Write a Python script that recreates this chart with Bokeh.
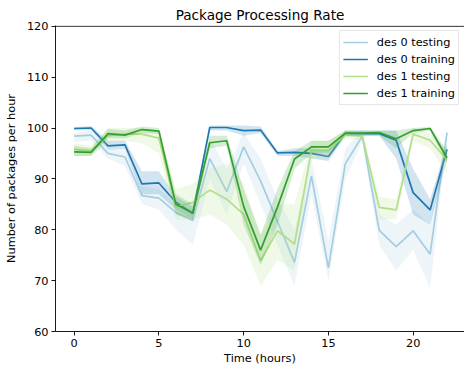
from bokeh.plotting import figure
from bokeh.models import Range1d, Span, FixedTicker
from bokeh.embed import file_html
from bokeh.resources import INLINE

hours = list(range(23))

des0_test = [98.4, 98.6, 95.0, 94.3, 86.7, 86.2, 83.4, 81.8, 94.0, 87.5, 96.3, 89.6,
             81.6, 73.6, 90.6, 72.5, 93.0, 98.4, 79.9, 76.7, 79.8, 75.2, 99.1]
des0_test_lo = [97.3, 97.5, 94.0, 92.5, 85.0, 84.0, 80.0, 77.0, 90.0, 83.0, 93.0, 85.0,
                77.0, 69.0, 87.0, 70.0, 90.0, 97.5, 77.0, 72.0, 76.0, 68.5, 98.0]
des0_test_hi = [99.0, 99.5, 96.0, 95.5, 88.5, 88.0, 85.0, 84.0, 98.0, 92.0, 99.0, 94.0,
                86.0, 80.0, 94.0, 78.0, 96.0, 99.5, 83.0, 81.0, 84.0, 81.0, 100.0]

des0_train = [99.9, 100.0, 96.5, 96.7, 89.0, 89.2, 85.4, 83.2, 100.1, 100.1, 99.5, 99.6,
              95.1, 95.2, 95.0, 94.4, 98.9, 98.9, 98.9, 97.6, 87.3, 83.9, 95.8]
des0_train_lo = [99.5, 99.6, 95.8, 95.8, 87.0, 87.0, 84.0, 82.0, 99.5, 99.5, 98.5, 99.0,
                 94.5, 94.5, 94.0, 93.5, 98.5, 98.5, 98.5, 94.0, 83.0, 81.0, 94.0]
des0_train_hi = [100.2, 100.4, 97.5, 97.5, 91.5, 91.5, 86.5, 84.5, 100.5, 100.5, 100.5, 100.3,
                 95.5, 96.0, 96.0, 95.5, 99.5, 99.5, 99.5, 99.5, 92.0, 86.0, 97.0]

des1_test = [95.8, 95.5, 98.5, 98.8, 98.8, 98.0, 84.5, 85.4, 87.8, 86.0, 83.0, 73.9,
             79.8, 77.2, 95.6, 95.6, 98.6, 98.4, 84.4, 83.9, 98.8, 97.6, 93.7]
des1_test_lo = [94.5, 94.5, 97.0, 97.5, 97.0, 95.0, 82.0, 82.0, 83.0, 81.0, 77.0, 69.0,
                74.0, 72.0, 94.0, 94.0, 98.0, 97.5, 82.0, 82.0, 97.5, 96.0, 91.0]
des1_test_hi = [97.0, 96.5, 100.0, 100.0, 100.0, 99.5, 88.0, 89.0, 92.0, 93.0, 89.0, 79.0,
                85.0, 85.0, 97.5, 97.5, 99.5, 99.5, 86.5, 86.0, 100.0, 99.0, 96.0]

des1_train = [95.3, 95.2, 98.9, 98.6, 99.7, 99.4, 85.0, 83.3, 97.1, 97.5, 84.6, 76.0,
              84.5, 93.9, 96.3, 96.3, 99.0, 99.0, 99.1, 97.9, 99.5, 99.9, 94.1]
des1_train_lo = [94.5, 94.5, 98.0, 98.0, 99.0, 98.8, 83.0, 82.0, 96.0, 96.5, 81.0, 73.0,
                 81.0, 92.0, 95.0, 95.0, 98.5, 98.5, 98.5, 96.0, 99.0, 99.5, 93.0]
des1_train_hi = [96.5, 96.0, 99.8, 99.5, 100.3, 100.0, 87.0, 85.0, 98.5, 98.5, 88.0, 79.0,
                 88.0, 95.5, 97.5, 97.5, 99.5, 99.5, 99.5, 99.5, 100.0, 100.2, 95.5]

labels = ["des 0 testing", "des 0 training", "des 1 testing", "des 1 training"]
colors = ["#a6cee3", "#1f78b4", "#b2df8a", "#33a02c"]
x_ticks = [0, 5, 10, 15, 20]
y_ticks = [60, 70, 80, 90, 100, 110, 120]

series = [
    (des0_test, des0_test_lo, des0_test_hi),
    (des0_train, des0_train_lo, des0_train_hi),
    (des1_test, des1_test_lo, des1_test_hi),
    (des1_train, des1_train_lo, des1_train_hi),
]

FONT = "DejaVu Sans"
FS = "11.3px"

p = figure(width=464, height=368, output_backend="svg", toolbar_location=None,
           x_range=Range1d(-1.1, 23.03), y_range=Range1d(60, 120.15),
           title="Package Processing Rate",
           min_border_left=55, min_border_right=0, min_border_top=25, min_border_bottom=37)

p.title.align = "center"
p.title.text_font = FONT
p.title.text_font_size = "13.6px"
p.title.text_font_style = "normal"
p.title.text_color = "black"
p.title.standoff = 6

p.outline_line_color = None
p.grid.visible = False
p.background_fill_color = "white"
p.border_fill_color = "white"

for ax in (p.xaxis[0], p.yaxis[0]):
    ax.axis_line_color = "black"
    ax.axis_line_width = 0.9
    ax.major_tick_line_color = "black"
    ax.major_tick_line_width = 0.9
    ax.major_tick_in = 0
    ax.major_tick_out = 4
    ax.minor_tick_line_color = None
    ax.major_label_text_font = FONT
    ax.major_label_text_font_size = FS
    ax.major_label_text_color = "black"
    ax.axis_label_text_font = FONT
    ax.axis_label_text_font_size = FS
    ax.axis_label_text_font_style = "normal"
    ax.axis_label_text_color = "black"
    ax.major_label_standoff = 3

p.xaxis.ticker = FixedTicker(ticks=x_ticks)
p.yaxis.ticker = FixedTicker(ticks=y_ticks)
p.xaxis.axis_label = "Time (hours)"
p.yaxis.axis_label = "Number of packages per hour"
p.xaxis.axis_label_standoff = 2
p.yaxis.axis_label_standoff = 6

top_spine = Span(location=120, dimension="width", line_color="black", line_width=0.9)
p.add_layout(top_spine)

for (vals, lo, hi), lab, col in zip(series, labels, colors):
    p.line(hours, vals, line_color=col, line_width=1.7, legend_label=lab)
    p.varea(x=hours, y1=lo, y2=hi, fill_color=col, fill_alpha=0.2)

lg = p.legend[0]
lg.location = "top_right"
lg.margin = 5
lg.padding = 3
lg.spacing = 1
lg.glyph_width = 25
lg.glyph_height = 16
lg.label_height = 16
lg.label_standoff = 9
lg.label_text_font = FONT
lg.label_text_font_size = FS
lg.label_text_color = "black"
lg.border_line_color = "#cccccc"
lg.border_line_width = 1
lg.background_fill_alpha = 0.8
lg.background_fill_color = "white"

open("out.html", "w").write(file_html(p, INLINE))
